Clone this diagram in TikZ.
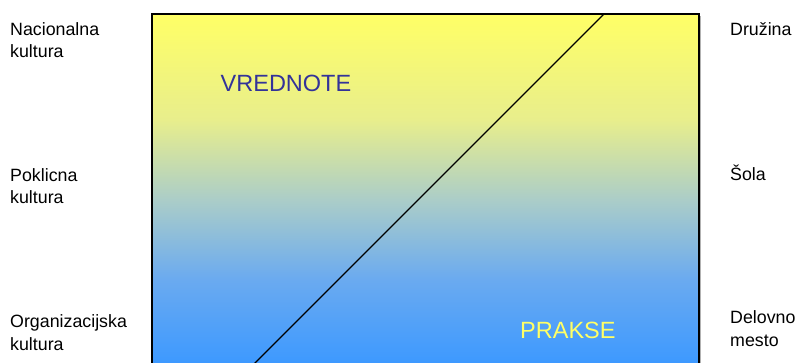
\documentclass[tikz,border=0pt]{standalone}
\usepackage{fontspec}
\setmainfont{Liberation Sans}
\definecolor{gTop}{HTML}{FFFF66}
\definecolor{gA}{HTML}{E8EE8C}
\definecolor{gB}{HTML}{ABCDC8}
\definecolor{gC}{HTML}{6AAAF0}
\definecolor{gBot}{HTML}{3D99FF}
\definecolor{vredC}{HTML}{333399}
\definecolor{praksC}{HTML}{FFFF66}
\pgfdeclareverticalshading{culture}{100bp}{color(0bp)=(gBot); color(27bp)=(gBot); color(38.5bp)=(gC); color(49.5bp)=(gB); color(60.5bp)=(gA); color(75bp)=(gTop); color(100bp)=(gTop)}
\tikzset{
  sidelabel/.style={anchor=base west, inner sep=0pt, align=left, font=\fontsize{17.8}{22}\selectfont, text=black},
  biglabel/.style={anchor=base west, inner sep=0pt, font=\fontsize{23.5}{28}\selectfont}
}
\begin{document}
\begin{tikzpicture}[x=1pt,y=-1pt]
\useasboundingbox (0,0) rectangle (798,363);
\begin{scope}
\clip (0,0) rectangle (798,363);
\fill[gray!60] (154,16) rectangle (701,380);
\shade[shading=culture] (152,14) rectangle (699,378);
\draw[line width=1.5pt] (152,14) rectangle (699,378);
\coordinate (lineTop) at (604,14);
\coordinate (lineBot) at (240,378);
\draw[line width=1.2pt] (lineBot) -- (lineTop);
\end{scope}
\node[biglabel, text=vredC] (vred) at (220.5,91.7) {VREDNOTE};
\node[biglabel, text=praksC] (prak) at (520,339) {PRAKSE};
\node[sidelabel] (nac) at (10,57.7) {Nacionalna\\kultura};
\node[sidelabel] (pok) at (10,203.5) {Poklicna\\kultura};
\node[sidelabel] (org) at (10,350) {Organizacijska\\kultura};
\node[sidelabel] (dru) at (730,35.5) {Družina};
\node[sidelabel] (sol) at (730,180.5) {Šola};
\node[sidelabel] (del) at (730,346) {Delovno\\mesto};
\end{tikzpicture}
\end{document}
